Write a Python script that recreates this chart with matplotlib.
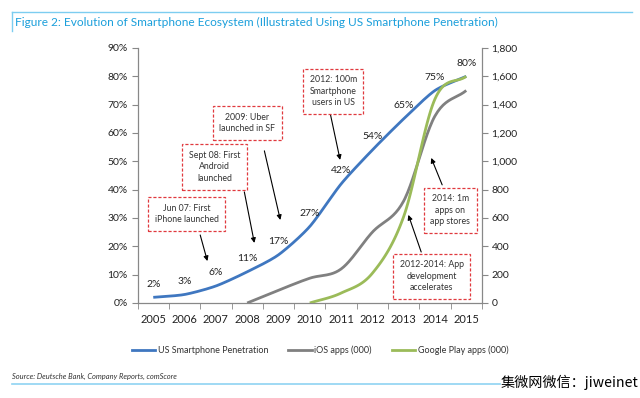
import matplotlib
matplotlib.use("Agg")
import matplotlib.pyplot as plt
import numpy as np
from matplotlib.lines import Line2D
from matplotlib.ticker import FuncFormatter, MultipleLocator, FixedLocator

plt.rcParams['font.family'] = ['Lato', 'DejaVu Sans']

years = ['2005', '2006', '2007', '2008', '2009', '2010', '2011', '2012', '2013', '2014', '2015']
penetration = [0.02, 0.03, 0.06, 0.11, 0.17, 0.27, 0.42, 0.54, 0.65, 0.75, 0.80]
pen_labels = ['2%', '3%', '6%', '11%', '17%', '27%', '42%', '54%', '65%', '75%', '80%']
ios_years = ['2008', '2009', '2010', '2011', '2012', '2013', '2014', '2015']
ios_apps = [0, 90, 175, 240, 500, 720, 1320, 1500]
gp_years = ['2010', '2011', '2012', '2013', '2014', '2015']
gp_apps = [0, 70, 210, 610, 1440, 1600]

series_names = ['US Smartphone Penetration', 'iOS apps (000)', 'Google Play apps (000)']
colors = ['#3f77c0', '#808080', '#9bbb59']

notes = [
    ("Jun 07: First\niPhone launched", (1.07, 0.314), (1.50, 0.240), (1.73, 0.148)),
    ("Sept 08: First\nAndroid\nlaunched", (1.96, 0.480), (2.91, 0.392), (3.23, 0.212)),
    ("2009: Uber\nlaunched in SF", (3.00, 0.635), (3.55, 0.537), (4.06, 0.293)),
    ("2012: 100m\nSmartphone\nusers in US", (5.75, 0.748), (5.65, 0.671), (5.97, 0.505)),
    ("2014: 1m\napps on\napp stores", (9.49, 0.328), (9.23, 0.417), (8.88, 0.512)),
    ("2012-2014: App\ndevelopment\naccelerates", (8.90, 0.095), (8.56, 0.180), (8.15, 0.311)),
]


def smooth(xs, ys, n=24, k=6.0):
    xs = np.asarray(xs, float)
    ys = np.asarray(ys, float)
    P = np.column_stack([xs, ys])
    P = np.vstack([2 * P[0] - P[1], P, 2 * P[-1] - P[-2]])
    out = []
    for i in range(1, len(P) - 2):
        p0, p1, p2, p3 = P[i - 1], P[i], P[i + 1], P[i + 2]
        t = np.linspace(0, 1, n, endpoint=(i == len(P) - 3))[:, None]
        c1 = p1 + (p2 - p0) / k
        c2 = p2 - (p3 - p1) / k
        seg = ((1 - t) ** 3) * p1 + 3 * ((1 - t) ** 2) * t * c1 + 3 * (1 - t) * t ** 2 * c2 + t ** 3 * p2
        out.append(seg)
    out = np.vstack(out)
    return out[:, 0], out[:, 1]


fig = plt.figure(figsize=(6.4, 3.98), dpi=100)
ax = fig.add_axes([0.215, 0.2387, 0.538, 0.6407])
ax2 = ax.twinx()

xi = {y: i for i, y in enumerate(years)}
x_pen = [xi[y] for y in years]
x_ios = [xi[y] for y in ios_years]
x_gp = [xi[y] for y in gp_years]

sx, sy = smooth(x_pen, penetration, k=8.0)
ax.plot(sx, sy, color=colors[0], lw=2.0, solid_capstyle='butt', zorder=3)
sx, sy = smooth(x_ios, ios_apps)
ax2.plot(sx, sy, color=colors[1], lw=2.0, solid_capstyle='butt', zorder=3)
sx, sy = smooth(x_gp, gp_apps)
ax2.plot(sx, sy, color=colors[2], lw=2.0, solid_capstyle='butt', zorder=3)

for x, v, lab in zip(x_pen, penetration, pen_labels):
    ax.annotate(lab, (x, v), xytext=(0, 9.5), textcoords='offset points',
                ha='center', va='center', fontsize=7.5, color='#222222')

ax.set_xlim(-0.5, len(years) - 0.5)
ax.set_ylim(0, 0.9)
ax2.set_ylim(0, 1800)
ax.yaxis.set_major_locator(MultipleLocator(0.1))
ax.yaxis.set_major_formatter(FuncFormatter(lambda v, p: f"{v*100:.0f}%"))
ax2.yaxis.set_major_locator(MultipleLocator(200))
ax2.yaxis.set_major_formatter(FuncFormatter(lambda v, p: f"{v:,.0f}"))

ax.set_xticks(range(len(years)))
ax.set_xticklabels(years)
ax.xaxis.set_minor_locator(FixedLocator(np.arange(-0.5, len(years), 1.0)))
ax.tick_params(axis='x', which='major', length=0, pad=8, labelsize=8, labelcolor='#222222')
ax.tick_params(axis='x', which='minor', length=4, direction='out', color='#888888')
ax.tick_params(axis='y', length=4, direction='out', color='#888888', labelsize=7.5, labelcolor='#222222', pad=3)
ax2.tick_params(axis='y', length=4, direction='out', color='#888888', labelsize=7.5, labelcolor='#222222', pad=3)

for a in (ax, ax2):
    a.spines['top'].set_visible(False)
    for s in ('left', 'right', 'bottom'):
        a.spines[s].set_color('#888888')
        a.spines[s].set_linewidth(0.9)
ax.spines['right'].set_visible(False)
ax2.spines['left'].set_visible(False)
ax2.spines['bottom'].set_visible(False)

for text, (bx, by), (tx, ty), (hx, hy) in notes:
    ax.annotate('', xy=(hx, hy), xytext=(tx, ty), xycoords='data',
                arrowprops=dict(arrowstyle='-|>', color='black', lw=0.8,
                                mutation_scale=7, shrinkA=0, shrinkB=0), zorder=5)
    ax.text(bx, by, text, ha='center', va='center', fontsize=6.3, color='#333333',
            linespacing=1.35, zorder=6,
            bbox=dict(boxstyle='square,pad=0.75', fc='white', ec='#e0393e', lw=0.9, ls=(0, (2.5, 1.5))))

handles = [Line2D([0], [0], color=c, lw=2.0) for c in colors]
fig.legend(handles, series_names, loc='center', bbox_to_anchor=(0.5, 0.12), ncol=3,
           frameon=False, fontsize=6.5, handlelength=2.6, handletextpad=0.3, columnspacing=2.2,
           labelcolor='#333333')

# decorations
fig.add_artist(Line2D([12 / 640, 632 / 640], [1 - 12 / 398] * 2, color='#7dcdf0', lw=1.0))
fig.add_artist(Line2D([12 / 640] * 2, [1 - 12 / 398, 1 - 31 / 398], color='#7dcdf0', lw=1.0))
fig.text(15 / 640, 1 - 22 / 398, 'Figure 2: Evolution of Smartphone Ecosystem (Illustrated Using US Smartphone Penetration)',
         ha='left', va='center', fontsize=8.6, color='#1b9fdb')
fig.text(12 / 640, 1 - 376 / 398, 'Source: Deutsche Bank, Company Reports, comScore',
         ha='left', va='center', fontsize=5.4, style='italic', color='#333333')
fig.add_artist(Line2D([12 / 640, 500 / 640], [1 - 384 / 398] * 2, color='#8fd3f2', lw=1.2))
fig.text(0.998, 1 - 382 / 398, '集微网微信：jiweinet', ha='right', va='center', fontsize=10.2,
         color='black', family=['Noto Sans CJK SC', 'DejaVu Sans'])

fig.savefig('out.png', dpi=100)
